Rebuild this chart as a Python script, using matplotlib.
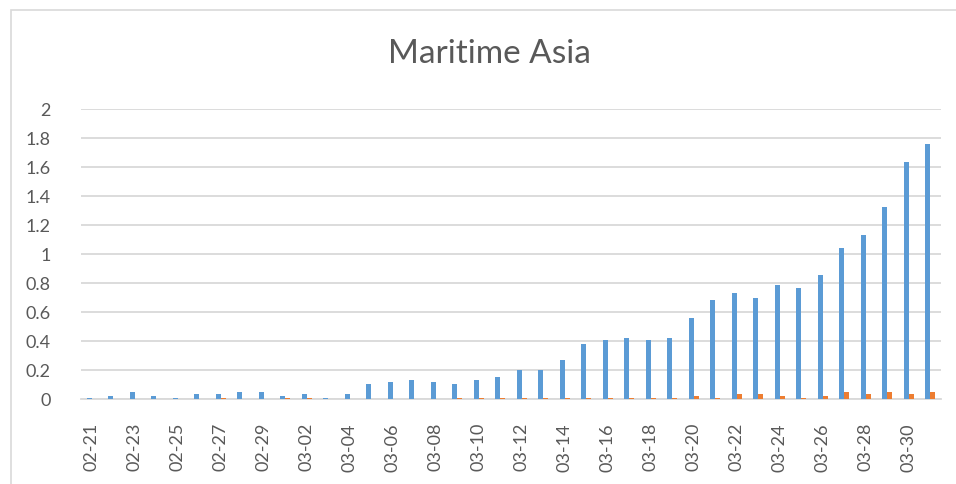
import matplotlib
matplotlib.use("Agg")
import matplotlib.pyplot as plt
import numpy as np
from matplotlib.patches import Rectangle

# ---- data ----
dates = ["02-21", "02-22", "02-23", "02-24", "02-25", "02-26", "02-27", "02-28", "02-29",
         "03-01", "03-02", "03-03", "03-04", "03-05", "03-06", "03-07", "03-08", "03-09",
         "03-10", "03-11", "03-12", "03-13", "03-14", "03-15", "03-16", "03-17", "03-18",
         "03-19", "03-20", "03-21", "03-22", "03-23", "03-24", "03-25", "03-26", "03-27",
         "03-28", "03-29", "03-30", "03-31"]

series_blue = [0.004, 0.018, 0.048, 0.018, 0.004, 0.034, 0.034, 0.048, 0.048,
               0.018, 0.034, 0.004, 0.034, 0.103, 0.117, 0.131, 0.117, 0.103,
               0.131, 0.145, 0.195, 0.195, 0.264, 0.375, 0.402, 0.414, 0.402,
               0.414, 0.552, 0.676, 0.731, 0.690, 0.786, 0.759, 0.855, 1.037,
               1.131, 1.324, 1.628, 1.752]

series_orange = [0, 0, 0, 0, 0, 0, 0.003, 0, 0,
                 0.003, 0.003, 0, 0, 0, 0, 0, 0, 0.003,
                 0.003, 0.003, 0.003, 0.003, 0.003, 0.003, 0.003, 0.003, 0.003,
                 0.003, 0.014, 0.003, 0.030, 0.030, 0.014, 0.003, 0.014, 0.044,
                 0.030, 0.044, 0.030, 0.044]

yticks = [0, 0.2, 0.4, 0.6, 0.8, 1, 1.2, 1.4, 1.6, 1.8, 2]
ytick_labels = ["0", "0.2", "0.4", "0.6", "0.8", "1", "1.2", "1.4", "1.6", "1.8", "2"]
title = "Maritime Asia"

# ---- style ----
FONT = ["Lato", "DejaVu Sans"]
TXT = "#595959"
GRID = "#D9D9D9"
BLUE = "#5B9BD5"
ORANGE = "#ED7D31"

fig = plt.figure(figsize=(9.56, 4.85), dpi=100)
fig.patch.set_facecolor("white")

# chart border (extends past the image on right and bottom)
border = Rectangle((10.5 / 956, -0.1), 1.2, 1 - 10.5 / 485 + 0.1,
                   transform=fig.transFigure, fill=False, edgecolor=GRID,
                   linewidth=1.2, zorder=0)
fig.patches.append(border)

left, right = 81 / 956, 941 / 956
bottom, top = 1 - 399.5 / 485, 1 - 109.5 / 485
ax = fig.add_axes([left, bottom, right - left, top - bottom])

x = np.arange(len(dates))
w = 0.24
ax.bar(x - w / 2, series_blue, width=w, color=BLUE, zorder=3)
ax.bar(x + w / 2, series_orange, width=w, color=ORANGE, zorder=3)

ax.set_xlim(-0.5, len(dates) - 0.5)
ax.set_ylim(0, 2)
ax.set_yticks(yticks)
ax.set_yticklabels(ytick_labels, family=FONT, fontsize=13, color=TXT)
ax.set_xticks(x[::2])
ax.set_xticklabels(dates[::2], rotation=90, family=FONT, fontsize=13, color=TXT)
ax.tick_params(axis="y", length=0, pad=22)
ax.tick_params(axis="x", length=0, pad=17)

ax.grid(axis="y", color=GRID, linewidth=1.3, zorder=0)
ax.set_axisbelow(True)
for s in ["top", "right", "left"]:
    ax.spines[s].set_visible(False)
ax.spines["bottom"].set_color(GRID)
ax.spines["bottom"].set_linewidth(1.3)

fig.text(489.5 / 956, 1 - 54 / 485, title, ha="center", va="center",
         family=FONT, fontsize=24, color=TXT)

fig.savefig("out.png", dpi=100, facecolor="white")
